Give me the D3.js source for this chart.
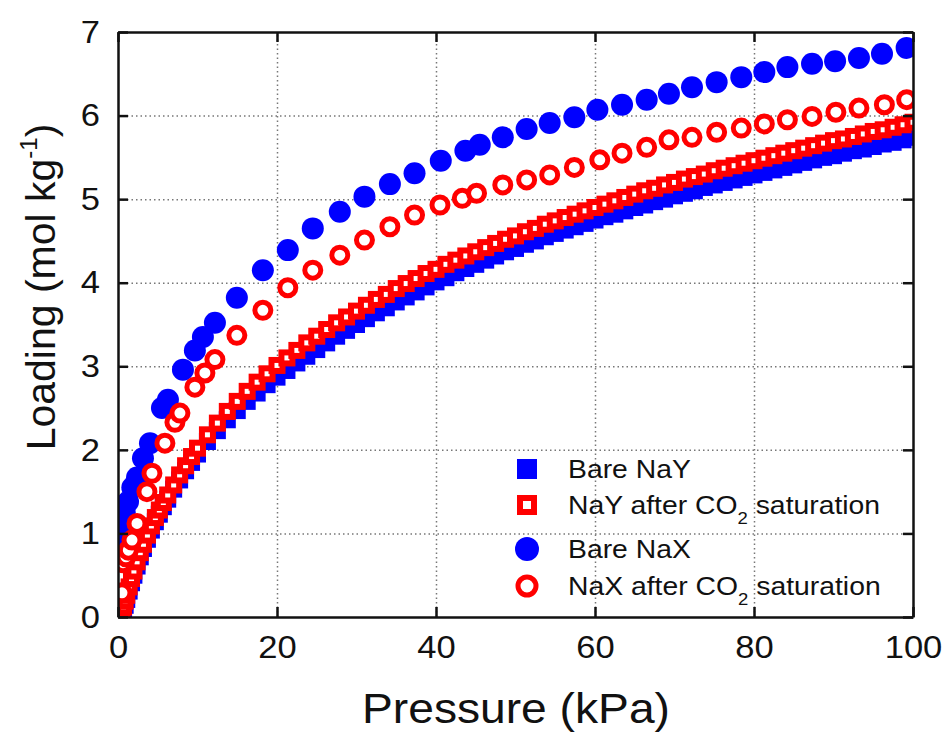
<!DOCTYPE html>
<html>
<head>
<meta charset="utf-8">
<script src="https://cdn.jsdelivr.net/npm/d3@7"></script>
<style>
  body { margin: 0; background: #fff; }
  svg { font-family: "Liberation Sans", Arial, sans-serif; }
  .frame .domain { stroke: #111; stroke-width: 2.5; }
  .frame .tick line { stroke: #111; stroke-width: 2.5; }
  .frame .tick text { fill: #111; font-size: 32px; }
  .grid .domain { display: none; }
  .grid .tick line { stroke: #777; stroke-width: 1.5; stroke-dasharray: 1.5,3; }
</style>
</head>
<body>
<div id="chart"></div>
<script>
// pressure points (kPa) for the two NaY series
const pNaY = [
  0.3, 0.5, 0.7, 0.9, 1.1, 1.4, 1.7, 2.0, 2.4, 2.8, 3.2, 3.7, 4.2, 4.7, 5.2, 5.7,
  6.25, 7.0, 7.75, 8.5, 9.25, 10,
  11.25, 12.5, 13.75, 15, 16.25, 17.5, 18.75, 20, 21.25, 22.5, 23.75, 25,
  26.25, 27.5, 28.75, 30, 31.25, 32.5, 33.75, 35, 36.25, 37.5, 38.75, 40,
  41.25, 42.5, 43.75, 45, 46.25, 47.5, 48.75, 50, 51.25, 52.5, 53.75, 55,
  56.25, 57.5, 58.75, 60, 61.25, 62.5, 63.75, 65, 66.25, 67.5, 68.75, 70,
  71.25, 72.5, 73.75, 75, 76.25, 77.5, 78.75, 80, 81.25, 82.5, 83.75, 85,
  86.25, 87.5, 88.75, 90, 91.25, 92.5, 93.75, 95, 96.25, 97.5, 98.75, 100
];
const bareNaY = [
  0.0, 0.02, 0.07, 0.14, 0.21, 0.31, 0.41, 0.50, 0.61, 0.72, 0.82, 0.93, 1.04, 1.14, 1.23, 1.32,
  1.41, 1.53, 1.64, 1.75, 1.85, 1.95,
  2.10, 2.23, 2.36, 2.47, 2.58, 2.68, 2.78, 2.87, 2.95, 3.04, 3.12, 3.20,
  3.28, 3.36, 3.43, 3.50, 3.57, 3.64, 3.70, 3.77, 3.83, 3.89, 3.95, 4.01,
  4.06, 4.12, 4.17, 4.22, 4.27, 4.32, 4.37, 4.41, 4.46, 4.50, 4.55, 4.59,
  4.63, 4.67, 4.71, 4.75, 4.79, 4.82, 4.86, 4.90, 4.93, 4.97, 5.00, 5.04,
  5.07, 5.10, 5.14, 5.17, 5.20, 5.23, 5.26, 5.29, 5.32, 5.35, 5.38, 5.41,
  5.44, 5.47, 5.50, 5.52, 5.55, 5.58, 5.60, 5.63, 5.66, 5.68, 5.71, 5.74
];
const nayCO2 = [
  0.02, 0.06, 0.12, 0.19, 0.26, 0.36, 0.46, 0.55, 0.66, 0.77, 0.87, 0.98, 1.09, 1.19, 1.28, 1.37,
  1.46, 1.58, 1.70, 1.81, 1.92, 2.02,
  2.18, 2.32, 2.46, 2.58, 2.70, 2.81, 2.91, 3.01, 3.10, 3.19, 3.28, 3.36,
  3.44, 3.52, 3.59, 3.66, 3.73, 3.80, 3.86, 3.93, 3.99, 4.05, 4.11, 4.16,
  4.22, 4.27, 4.32, 4.37, 4.42, 4.47, 4.52, 4.56, 4.61, 4.65, 4.70, 4.74,
  4.78, 4.82, 4.86, 4.90, 4.94, 4.98, 5.02, 5.06, 5.10, 5.13, 5.17, 5.20,
  5.24, 5.27, 5.30, 5.34, 5.37, 5.40, 5.43, 5.46, 5.49, 5.52, 5.55, 5.58,
  5.61, 5.64, 5.67, 5.70, 5.72, 5.75, 5.78, 5.81, 5.83, 5.86, 5.89, 5.92
];

// NaX series have their own pressure points
const pBareNaX = [
  0.2, 0.5, 0.85, 1.26, 1.8, 2.39, 3.14, 4.02, 5.53, 6.28, 8.17, 9.67, 10.68, 12.19,
  14.95, 18.22, 21.36, 24.5, 27.9, 31.0, 34.2, 37.3, 40.6, 43.7, 45.5, 48.4,
  51.4, 54.3, 57.4, 60.3, 63.4, 66.5, 69.3, 72.2, 75.3, 78.4, 81.3, 84.2,
  87.3, 90.2, 93.2, 96.1, 99.2
];
const bareNaX = [
  0.85, 1.1, 1.25, 1.38, 1.55, 1.67, 1.90, 2.08, 2.50, 2.60, 2.96, 3.19, 3.35, 3.52,
  3.82, 4.15, 4.39, 4.65, 4.85, 5.03, 5.18, 5.31, 5.46, 5.58, 5.65, 5.74,
  5.84, 5.91, 5.98, 6.07, 6.13, 6.19, 6.26, 6.34, 6.40, 6.46, 6.52, 6.58,
  6.62, 6.65, 6.69, 6.74, 6.81
];
const pNaXCO2 = [
  0.5, 0.63, 1.0, 1.3, 1.76, 2.39, 3.64, 4.27, 5.9, 7.16, 7.79, 9.67, 10.93, 12.19,
  14.95, 18.22, 21.36, 24.5, 27.9, 31.0, 34.2, 37.3, 40.5, 43.3, 45.1, 48.4,
  51.4, 54.3, 57.4, 60.6, 63.4, 66.5, 69.3, 72.2, 75.3, 78.4, 81.3, 84.2,
  87.3, 90.3, 93.2, 96.4, 99.2
];
const naxCO2 = [
  0.29, 0.65, 0.72, 0.80, 0.92, 1.12, 1.50, 1.72, 2.08, 2.33, 2.44, 2.75, 2.92, 3.08,
  3.37, 3.67, 3.94, 4.15, 4.33, 4.51, 4.67, 4.81, 4.93, 5.01, 5.07, 5.17,
  5.23, 5.29, 5.38, 5.47, 5.55, 5.62, 5.71, 5.74, 5.80, 5.85, 5.90, 5.95,
  5.99, 6.04, 6.09, 6.13, 6.19
];

const xTicks = [0, 20, 40, 60, 80, 100];
const yTicks = [0, 1, 2, 3, 4, 5, 6, 7];
const legendNames = ["Bare NaY", "NaY after CO2 saturation", "Bare NaX", "NaX after CO2 saturation"];

const W = 947, H = 735;
const mLeft = 118, mRight = 913, mTop = 32, mBottom = 617;
// the reference lettering is a bit wider than Liberation Sans
const TICK_SX = 1.08, LEG_SX = 1.09, TITLE_SX = 1.1;

const x = d3.scaleLinear().domain([0, 100]).range([mLeft, mRight]);
const y = d3.scaleLinear().domain([0, 7]).range([mBottom, mTop]);

const svg = d3.select('#chart').append('svg')
  .attr('width', W).attr('height', H);

svg.append('defs').append('clipPath').attr('id', 'plotclip')
  .append('rect')
  .attr('x', mLeft).attr('y', mTop)
  .attr('width', mRight - mLeft).attr('height', mBottom - mTop);

// dotted grid
svg.append('g').attr('class', 'grid')
  .attr('transform', `translate(0,${mBottom})`)
  .call(d3.axisBottom(x).tickValues(xTicks.slice(1, -1)).tickSize(-(mBottom - mTop)).tickFormat(''));
svg.append('g').attr('class', 'grid')
  .attr('transform', `translate(${mLeft},0)`)
  .call(d3.axisLeft(y).tickValues(yTicks.slice(1, -1)).tickSize(-(mRight - mLeft)).tickFormat(''));

const marks = svg.append('g').attr('clip-path', 'url(#plotclip)');

const zip = (ps, qs) => ps.map((p, i) => ({ p: p, q: qs[i] }));

const SQ = 17;
marks.append('g').selectAll('rect')
  .data(zip(pNaY, bareNaY)).enter().append('rect')
  .attr('x', d => x(d.p) - SQ / 2).attr('y', d => y(d.q) - SQ / 2)
  .attr('width', SQ).attr('height', SQ)
  .attr('fill', '#0000ff');

marks.append('g').selectAll('rect')
  .data(zip(pNaY, nayCO2)).enter().append('rect')
  .attr('x', d => x(d.p) - (SQ - 6) / 2).attr('y', d => y(d.q) - (SQ - 6) / 2)
  .attr('width', SQ - 6).attr('height', SQ - 6)
  .attr('fill', '#fff').attr('stroke', '#ff0000').attr('stroke-width', 6);

marks.append('g').selectAll('circle')
  .data(zip(pBareNaX, bareNaX)).enter().append('circle')
  .attr('cx', d => x(d.p)).attr('cy', d => y(d.q))
  .attr('r', 11)
  .attr('fill', '#0000ff');

marks.append('g').selectAll('circle')
  .data(zip(pNaXCO2, naxCO2)).enter().append('circle')
  .attr('cx', d => x(d.p)).attr('cy', d => y(d.q))
  .attr('r', 8)
  .attr('fill', '#fff').attr('stroke', '#ff0000').attr('stroke-width', 5);

// frame with inward ticks on every side
const xb = svg.append('g').attr('class', 'frame')
  .attr('transform', `translate(0,${mBottom})`)
  .call(d3.axisBottom(x).tickValues(xTicks).tickSize(-10).tickPadding(18).tickSizeOuter(0));
xb.selectAll('.tick text').attr('transform', `scale(${TICK_SX},1)`);

svg.append('g').attr('class', 'frame')
  .attr('transform', `translate(0,${mTop})`)
  .call(d3.axisTop(x).tickValues(xTicks).tickSize(-10).tickFormat('').tickSizeOuter(0));

const yb = svg.append('g').attr('class', 'frame')
  .attr('transform', `translate(${mLeft},0)`)
  .call(d3.axisLeft(y).tickValues(yTicks).tickSize(-10).tickPadding(18)
    .tickFormat(d3.format('d')).tickSizeOuter(0));
yb.selectAll('.tick text')
  .attr('x', -18 / TICK_SX)
  .attr('transform', `scale(${TICK_SX},1)`);

svg.append('g').attr('class', 'frame')
  .attr('transform', `translate(${mRight},0)`)
  .call(d3.axisRight(y).tickValues(yTicks).tickSize(-10).tickFormat('').tickSizeOuter(0));

// axis titles
svg.append('text')
  .attr('transform', `scale(${TITLE_SX},1)`)
  .attr('x', 516 / TITLE_SX).attr('y', 723)
  .attr('text-anchor', 'middle')
  .attr('font-size', 42).attr('fill', '#111')
  .text('Pressure (kPa)');

const yl = svg.append('text')
  .attr('transform', `translate(55,287) rotate(-90)`)
  .attr('text-anchor', 'middle')
  .attr('font-size', 41).attr('fill', '#111');
yl.append('tspan').text('Loading (mol kg');
yl.append('tspan').attr('font-size', 24).attr('dy', -18).text('-1');
yl.append('tspan').attr('dy', 18).text(')');

// legend
const legY = [469, 505, 549, 586];
const lg = svg.append('g');
lg.append('rect').attr('x', 527 - 10).attr('y', legY[0] - 10).attr('width', 20).attr('height', 20)
  .attr('fill', '#0000ff');
lg.append('rect').attr('x', 527 - 7).attr('y', legY[1] - 7).attr('width', 14).attr('height', 14)
  .attr('fill', '#fff').attr('stroke', '#ff0000').attr('stroke-width', 6);
lg.append('circle').attr('cx', 527).attr('cy', legY[2]).attr('r', 12).attr('fill', '#0000ff');
lg.append('circle').attr('cx', 527).attr('cy', legY[3]).attr('r', 9)
  .attr('fill', '#fff').attr('stroke', '#ff0000').attr('stroke-width', 5);

legendNames.forEach((name, i) => {
  const t = lg.append('text')
    .attr('transform', `scale(${LEG_SX},1)`)
    .attr('x', 568 / LEG_SX).attr('y', legY[i] + 9)
    .attr('font-size', 26).attr('fill', '#111');
  const m = name.match(/^(.*CO)2(.*)$/);
  if (m) {
    t.append('tspan').text(m[1]);
    t.append('tspan').attr('font-size', 17).attr('dy', 10).text('2');
    t.append('tspan').attr('dy', -10).text(m[2]);
  } else {
    t.text(name);
  }
});
</script>
</body>
</html>
